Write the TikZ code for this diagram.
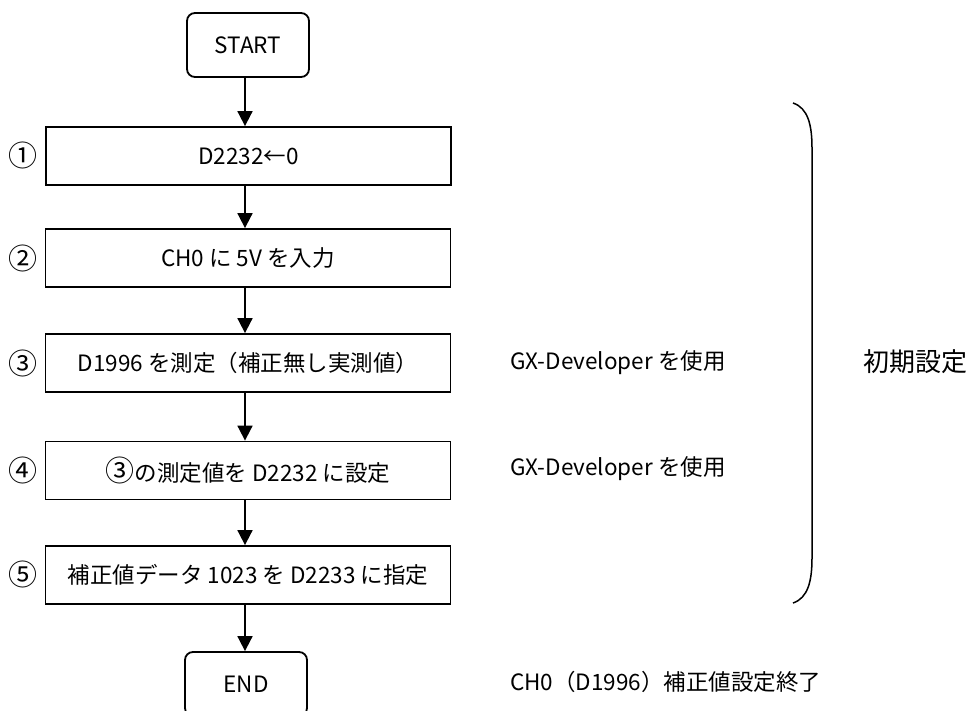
\documentclass[tikz,border=0pt]{standalone}
\usepackage{fontspec}
\setmainfont{Noto Sans CJK JP}
\usetikzlibrary{arrows.meta}
\newcommand{\mycircnum}[1]{{\fontsize{29}{22}\selectfont #1}}
\tikzset{
  procbox/.style={draw, line width=1.8pt, minimum width=405pt, minimum height=58pt, inner sep=0pt, font=\fontsize{22.5}{24}\selectfont},
  termbox/.style={draw, line width=1.8pt, rounded corners=8pt, minimum width=122pt, minimum height=64pt, inner sep=0pt, font=\fontsize{22.5}{24}\selectfont},
  flow/.style={line width=1.8pt, -{Triangle[length=15pt,width=15pt]}},
  numlbl/.style={font=\fontsize{29}{30}\selectfont, inner sep=0pt},
  note/.style={font=\fontsize{22.5}{24}\selectfont, anchor=west, inner sep=0pt},
  brace/.style={line width=1.5pt}
}
\begin{document}
\begin{tikzpicture}[x=1pt,y=-1pt]
\clip (0,0) rectangle (971,711);
\fill[white] (0,0) rectangle (971,711);

\node[termbox] (start) at (248,45) {START};
\node[procbox] (s1) at (248.5,156) {D2232←0};
\node[procbox] (s2) at (248,258) {CH0 に 5V を入力};
\node[procbox] (s3) at (248,363) {D1996 を測定（補正無し実測値）};
\node[procbox] (s4) at (248,470.5) {\mycircnum{③}の測定値を D2232 に設定};
\node[procbox] (s5) at (248,575) {補正値データ 1023 を D2233 に指定};
\node[termbox] (end) at (246,684) {END};

\node[numlbl] (n1) at (23,155) {①};
\node[numlbl] (n2) at (23,258) {②};
\node[numlbl] (n3) at (23,363) {③};
\node[numlbl] (n4) at (23,470) {④};
\node[numlbl] (n5) at (23,574) {⑤};

\draw[flow] (start.south -| 245,0) -- (s1.north -| 245,0);
\draw[flow] (s1.south -| 245,0) -- (s2.north -| 245,0);
\draw[flow] (s2.south -| 245,0) -- (s3.north -| 245,0);
\draw[flow] (s3.south -| 245,0) -- (s4.north -| 245,0);
\draw[flow] (s4.south -| 245,0) -- (s5.north -| 245,0);
\draw[flow] (s5.south -| 245,0) -- (end.north -| 245,0);

\node[note] (g1) at (510,363) {GX-Developer を使用};
\node[note] (g2) at (510,469) {GX-Developer を使用};
\node[note] (g3) at (510,682) {CH0（D1996）補正値設定終了};

\coordinate (bt) at (793,103);
\coordinate (bb) at (793,603);
\draw[brace] (bt) .. controls (808,108) and (812,125) .. (812,148) -- (812,558) .. controls (812,581) and (808,598) .. (bb);
\node[font=\fontsize{26}{30}\selectfont, anchor=west, inner sep=0pt] (init) at (863,362) {初期設定};
\end{tikzpicture}
\end{document}
